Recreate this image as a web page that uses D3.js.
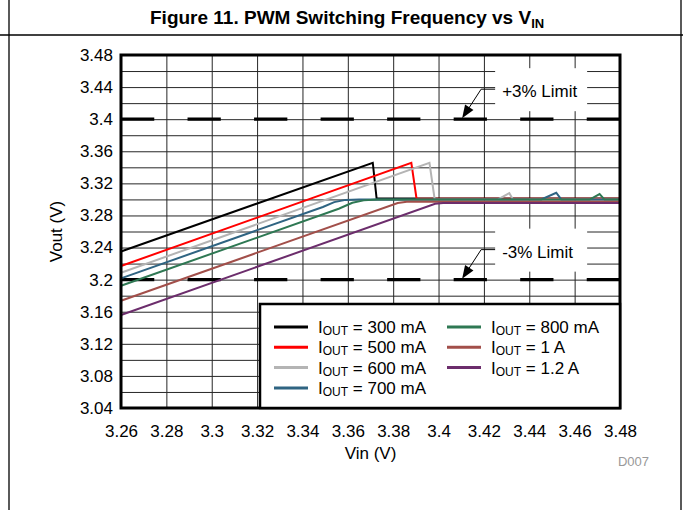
<!DOCTYPE html>
<html>
<head>
<meta charset="utf-8">
<script src="https://cdn.jsdelivr.net/npm/d3@7"></script>
<style>
  body { margin: 0; background: #fff; }
  svg { display: block; font-family: "Liberation Sans", Arial, sans-serif; }
</style>
</head>
<body>
<script>
// series names (legend order) + colours
const seriesNames = ["300 mA", "500 mA", "600 mA", "700 mA", "800 mA", "1 A", "1.2 A"];
const seriesColors = ["#000000", "#ff0000", "#b4b4b4", "#2f6482", "#2e7853", "#a24f4a", "#6c2d6c"];

// [Vin, Vout] points
const iout300 = [[3.26, 3.235], [3.371, 3.3457], [3.3727, 3.301], [3.48, 3.301]];
const iout500 = [[3.26, 3.217], [3.388, 3.3457], [3.3903, 3.3008], [3.48, 3.3008]];
const iout600 = [[3.26, 3.2086], [3.396, 3.3457], [3.3983, 3.3], [3.4262, 3.3], [3.4312, 3.3078], [3.4328, 3.3], [3.48, 3.3]];
const iout700 = [[3.26, 3.2016], [3.349, 3.2906], [3.354, 3.2966], [3.359, 3.2994], [3.365, 3.3], [3.4453, 3.3], [3.4519, 3.3083], [3.4541, 3.3], [3.48, 3.3]];
const iout800 = [[3.26, 3.1924], [3.356, 3.2884], [3.362, 3.2958], [3.367, 3.2988], [3.373, 3.2998], [3.4666, 3.2998], [3.471, 3.3067], [3.4732, 3.2998], [3.48, 3.2998]];
const iout1000 = [[3.26, 3.1736], [3.382, 3.2956], [3.386, 3.297], [3.48, 3.297]];
const iout1200 = [[3.26, 3.156], [3.3985, 3.2945], [3.402, 3.2956], [3.48, 3.2956]];
const allSeries = [iout300, iout500, iout600, iout700, iout800, iout1000, iout1200];

// axis ticks
const xTicks = [3.26, 3.28, 3.3, 3.32, 3.34, 3.36, 3.38, 3.4, 3.42, 3.44, 3.46, 3.48];
const yTicks = [3.04, 3.08, 3.12, 3.16, 3.2, 3.24, 3.28, 3.32, 3.36, 3.4, 3.44, 3.48];

// limit lines
const limitValues = [3.4, 3.2];
const limitLabels = ["+3% Limit", "-3% Limit"];
const arrowVin = 3.4104;

const W = 683, H = 510;
const margin = {left: 121, right: 63, top: 55, bottom: 102};

const svg = d3.select("body").append("svg")
  .attr("width", W).attr("height", H);

// page frame
svg.append("line").attr("x1", 9).attr("x2", 9).attr("y1", 0).attr("y2", H)
  .attr("stroke", "#000").attr("stroke-width", 1.3);
svg.append("line").attr("x1", 681).attr("x2", 681).attr("y1", 0).attr("y2", H)
  .attr("stroke", "#000").attr("stroke-width", 1.3);
svg.append("line").attr("x1", 0).attr("x2", W).attr("y1", 35).attr("y2", 35)
  .attr("stroke", "#000").attr("stroke-width", 1.3);

// title
const title = svg.append("text")
  .attr("x", 150).attr("y", 24)
  .style("font-size", "19px").style("font-weight", "bold");
title.append("tspan").text("Figure 11. PWM Switching Frequency vs V");
title.append("tspan").attr("dy", 4).style("font-size", "13px").text("IN");

const x = d3.scaleLinear().domain([3.26, 3.48]).range([margin.left, W - margin.right]);
const y = d3.scaleLinear().domain([3.04, 3.48]).range([H - margin.bottom, margin.top]);
const pw = x.range()[1] - x.range()[0];
const ph = y.range()[0] - y.range()[1];

const fmt = d => (+d.toFixed(2)).toString();

// grid
svg.append("g")
  .attr("transform", `translate(0,${y.range()[0]})`)
  .call(d3.axisBottom(x).tickValues(xTicks).tickSize(-ph).tickFormat(""))
  .call(g => g.select(".domain").remove())
  .call(g => g.selectAll("line").attr("stroke", "#262626").attr("stroke-width", 1));
svg.append("g")
  .attr("transform", `translate(${x.range()[0]},0)`)
  .call(d3.axisLeft(y).ticks(22).tickSize(-pw).tickFormat(""))
  .call(g => g.select(".domain").remove())
  .call(g => g.selectAll("line").attr("stroke", "#262626").attr("stroke-width", 1));

// tick labels
svg.append("g")
  .attr("transform", `translate(0,${y.range()[0]})`)
  .call(d3.axisBottom(x).tickValues(xTicks).tickSize(0).tickPadding(17).tickFormat(fmt))
  .call(g => g.select(".domain").remove())
  .call(g => g.selectAll("text").style("font-size", "17px").attr("fill", "#000")
    .style("font-family", "'Liberation Sans', Arial, sans-serif"));
svg.append("g")
  .attr("transform", `translate(${x.range()[0]},0)`)
  .call(d3.axisLeft(y).tickValues(yTicks).tickSize(0).tickPadding(8).tickFormat(fmt))
  .call(g => g.select(".domain").remove())
  .call(g => g.selectAll("text").style("font-size", "17px").attr("fill", "#000")
    .style("font-family", "'Liberation Sans', Arial, sans-serif"));

// axis titles
svg.append("text")
  .attr("x", (x.range()[0] + x.range()[1]) / 2).attr("y", 459)
  .attr("text-anchor", "middle").style("font-size", "17px").text("Vin (V)");
svg.append("text")
  .attr("transform", `translate(62,${(y.range()[0] + y.range()[1]) / 2}) rotate(-90)`)
  .attr("text-anchor", "middle").style("font-size", "17px").text("Vout (V)");
svg.append("text")
  .attr("x", 649).attr("y", 466).attr("text-anchor", "end")
  .style("font-size", "13px").attr("fill", "#999").text("D007");

// limit dashes
const dash = pw / 15;
svg.append("g").selectAll("line")
  .data(limitValues)
  .join("line")
  .attr("x1", x.range()[0]).attr("x2", x.range()[1])
  .attr("y1", d => y(d)).attr("y2", d => y(d))
  .attr("stroke", "#000").attr("stroke-width", 3.2)
  .attr("stroke-dasharray", `${dash} ${dash}`);

// annotations
const ann = svg.append("g").selectAll("g")
  .data(limitValues)
  .join("g")
  .attr("transform", d => `translate(${x(arrowVin)},${y(d) - 1})`);
ann.append("rect")
  .attr("x", 33).attr("y", -50).attr("width", 92).attr("height", 43)
  .attr("fill", "#fff");
ann.append("path")
  .attr("d", "M33,-29H19L6,-9")
  .attr("fill", "none").attr("stroke", "#000").attr("stroke-width", 1);
ann.append("path")
  .attr("d", () => {
    // arrow head pointing from elbow to tip (0,0)
    const ux = -19 / Math.hypot(19, 29), uy = 29 / Math.hypot(19, 29);
    const bx = -ux * 13, by = -uy * 13;
    const px = -uy * 5, py = ux * 5;
    return `M0,0L${bx + px},${by + py}L${bx - px},${by - py}Z`;
  })
  .attr("fill", "#000");
ann.append("text")
  .attr("x", 40).attr("y", -21)
  .style("font-size", "17px")
  .text((d, i) => limitLabels[i]);

// series
const line = d3.line().x(d => x(d[0])).y(d => y(d[1]));
svg.append("g").selectAll("path")
  .data(allSeries)
  .join("path")
  .attr("d", line)
  .attr("fill", "none")
  .attr("stroke", (d, i) => seriesColors[i])
  .attr("stroke-width", 2)
  .attr("stroke-linejoin", "miter");

// plot frame
svg.append("rect")
  .attr("x", x.range()[0]).attr("y", y.range()[1])
  .attr("width", pw).attr("height", ph)
  .attr("fill", "none").attr("stroke", "#000").attr("stroke-width", 3);

// legend
const lg = svg.append("g");
lg.append("rect")
  .attr("x", 260).attr("y", 304)
  .attr("width", x.range()[1] - 260).attr("height", y.range()[0] - 304)
  .attr("fill", "#fff").attr("stroke", "#000").attr("stroke-width", 2.5);
const item = lg.selectAll("g.item")
  .data(seriesNames)
  .join("g")
  .attr("class", "item")
  .attr("transform", (d, i) => {
    const col = i < 4 ? 0 : 1, row = i < 4 ? i : i - 4;
    return `translate(${col ? 447 : 274},${327 + row * 20.3})`;
  });
item.append("line")
  .attr("x1", 0).attr("x2", 34).attr("y1", 0).attr("y2", 0)
  .attr("stroke", (d, i) => seriesColors[i]).attr("stroke-width", 3);
const lt = item.append("text")
  .attr("x", 44).attr("y", 6)
  .style("font-size", "17px");
lt.append("tspan").text("I");
lt.append("tspan").attr("dy", 2).style("font-size", "12px").text("OUT");
lt.append("tspan").attr("dy", -2).text(d => " = " + d);
</script>
</body>
</html>
